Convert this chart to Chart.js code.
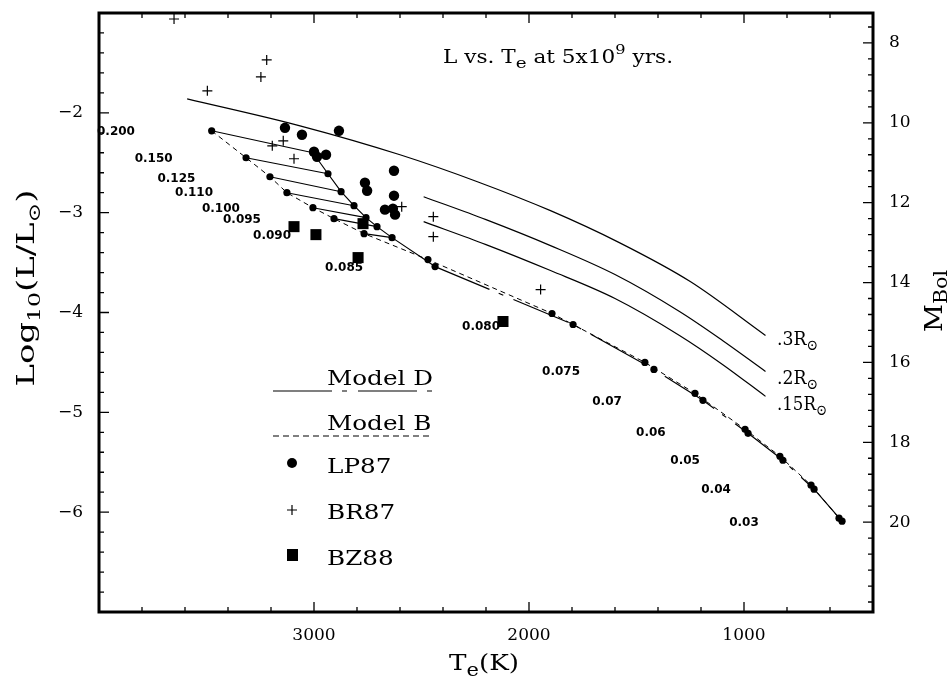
<!DOCTYPE html>
<html>
<head>
<meta charset="utf-8">
<title>L vs. Te at 5x10^9 yrs.</title>
<script src="https://cdn.jsdelivr.net/npm/chart.js@4.4.1/dist/chart.umd.min.js"></script>
<style>
  html, body { margin: 0; padding: 0; background: #fff; }
  #plot { display: block; }
</style>
</head>
<body>
<canvas id="plot" width="951" height="679"></canvas>
<script>
// model masses, written next to the isochrone points
const massLabels = ['0.200', '0.150', '0.125', '0.110', '0.100', '0.095', '0.090', '0.085',
                    '0.080', '0.075', '0.07', '0.06', '0.05', '0.04', '0.03'];
// where those mass labels sit (Te, log L)
const labelT = [3921, 3746, 3640, 3558, 3433, 3335, 3195, 2860, 2223, 1851, 1637, 1433, 1274, 1130, 1000];
const labelL = [-2.19, -2.46, -2.66, -2.80, -2.96, -3.07, -3.23, -3.55, -4.14, -4.59, -4.90, -5.21, -5.49, -5.78, -6.11];

// Model B isochrone (dashed)
const modelB_T = [3476, 3316, 3205, 3126, 3005, 2907, 2767, 2470, 1893, 1461, 1228, 995, 833, 688, 558];
const modelB_L = [-2.18, -2.45, -2.64, -2.80, -2.95, -3.06, -3.21, -3.47, -4.01, -4.50, -4.81, -5.17, -5.44, -5.73, -6.06];
// Model D isochrone (dash-dot)
const modelD_T = [3005, 2935, 2874, 2814, 2758, 2707, 2637, 2437, 1795, 1419, 1191, 981, 819, 674, 544];
const modelD_L = [-2.40, -2.61, -2.79, -2.93, -3.05, -3.14, -3.25, -3.54, -4.12, -4.57, -4.88, -5.21, -5.48, -5.77, -6.09];
// how many of the heavier masses get a B -> D connecting segment
const trackCount = 7;

// constant radius lines
const r30_T = [3590, 3065, 2600, 2240, 1900, 1580, 1250, 900];
const r30_L = [-1.86, -2.13, -2.42, -2.69, -2.98, -3.30, -3.69, -4.23];
const r20_T = [2490, 2200, 1900, 1600, 1300, 1100, 900];
const r20_L = [-2.84, -3.07, -3.33, -3.62, -3.99, -4.28, -4.59];
const r15_T = [2490, 2200, 1900, 1600, 1300, 1100, 900];
const r15_L = [-3.09, -3.32, -3.58, -3.86, -4.23, -4.52, -4.84];

// observed stars
const lp87_T = [3135, 3056, 2884, 3000, 2986, 2944, 2628, 2763, 2753, 2628, 2670, 2633, 2623];
const lp87_L = [-2.15, -2.22, -2.18, -2.39, -2.44, -2.42, -2.58, -2.70, -2.78, -2.83, -2.97, -2.96, -3.02];
const br87_T = [3651, 3220, 3247, 3496, 3143, 3194, 3093, 2592, 2445, 2445, 1946];
const br87_L = [-1.06, -1.47, -1.64, -1.78, -2.28, -2.33, -2.46, -2.94, -3.04, -3.24, -3.77];
const bz88_T = [3093, 2991, 2772, 2795, 2121];
const bz88_L = [-3.14, -3.22, -3.11, -3.45, -4.09];

// tick labels
const xTickLabels = [3000, 2000, 1000];
const yTickLabels = [-2, -3, -4, -5, -6];
const mbolTickLabels = [8, 10, 12, 14, 16, 18, 20];
const mbolZero = 4.75;   // M_Bol = 4.75 - 2.5 log L

const serif = "'DejaVu Serif', serif";
Chart.defaults.font.family = serif;
Chart.defaults.color = '#000';

const pts = (T, L) => T.map((t, i) => ({ x: t, y: L[i] }));
const hasLabel = (list, v) => list.some(l => Math.abs(l - v) < 1e-6);

function drawRich(ctx, parts, o) {
    ctx.save();
    let w = 0;
    parts.forEach(p => {
        ctx.font = `${o.size * (p.s || 1)}px ${serif}`;
        p.w = ctx.measureText(p.t).width;
        w += p.w;
    });
    const sx = o.width ? o.width / w : (o.sx || 1);
    ctx.translate(o.x, o.y);
    if (o.rotate) ctx.rotate(o.rotate);
    ctx.scale(sx, 1);
    ctx.fillStyle = '#000';
    ctx.textAlign = 'left';
    ctx.textBaseline = 'alphabetic';
    let cx = o.align === 'center' ? -w / 2 : 0;
    parts.forEach(p => {
        ctx.font = `${o.size * (p.s || 1)}px ${serif}`;
        ctx.fillText(p.t, cx, p.dy || 0);
        cx += p.w;
    });
    ctx.restore();
    return sx;
}

const sun = '\u2299';

const annotations = {
    id: 'annotations',
    afterDatasetsDraw(chart) {
        const { ctx, scales: { x, y } } = chart;

        // mass labels
        ctx.save();
        ctx.font = "bold 12px 'DejaVu Sans', sans-serif";
        ctx.fillStyle = '#000';
        ctx.textAlign = 'center';
        ctx.textBaseline = 'middle';
        massLabels.forEach((m, i) => {
            ctx.fillText(m, x.getPixelForValue(labelT[i]), y.getPixelForValue(labelL[i]));
        });
        ctx.restore();

        // title
        drawRich(ctx, [{ t: 'L vs. T' }, { t: 'e', s: 0.85, dy: 5 }, { t: ' at 5x10' },
                       { t: '9', s: 0.75, dy: -9 }, { t: ' yrs.' }],
                 { x: 443, y: 63, size: 18, width: 230 });

        // radius labels
        drawRich(ctx, [{ t: '.3R' }, { t: sun, s: 0.8, dy: 5 }], { x: 777, y: 345, size: 19, width: 41 });
        drawRich(ctx, [{ t: '.2R' }, { t: sun, s: 0.8, dy: 5 }], { x: 777, y: 384, size: 19, width: 41 });
        drawRich(ctx, [{ t: '.15R' }, { t: sun, s: 0.8, dy: 5 }], { x: 777, y: 410, size: 19, width: 50 });

        // axis titles
        drawRich(ctx, [{ t: 'Log' }, { t: '10', s: 0.7, dy: 6 }, { t: '(L/L' }, { t: sun, s: 0.7, dy: 6 }, { t: ')' }],
                 { x: 34, y: 288, size: 24, width: 197, align: 'center', rotate: -Math.PI / 2 });
        drawRich(ctx, [{ t: 'T' }, { t: 'e', s: 0.8, dy: 6 }, { t: '(K)' }],
                 { x: 484, y: 670, size: 23, width: 70, align: 'center' });
        drawRich(ctx, [{ t: 'M' }, { t: 'Bol', s: 0.75, dy: 5 }],
                 { x: 942, y: 301, size: 24, width: 62, align: 'center', rotate: -Math.PI / 2 });

        // legend
        const sx = drawRich(ctx, [{ t: 'Model D' }], { x: 327, y: 385, size: 21, width: 106 });
        drawRich(ctx, [{ t: 'Model B' }], { x: 327, y: 430, size: 21, sx });
        drawRich(ctx, [{ t: 'LP87' }], { x: 327, y: 473, size: 21, sx });
        drawRich(ctx, [{ t: 'BR87' }], { x: 327, y: 519, size: 21, sx });
        drawRich(ctx, [{ t: 'BZ88' }], { x: 327, y: 565, size: 21, sx });

        ctx.save();
        ctx.strokeStyle = '#000';
        ctx.fillStyle = '#000';
        ctx.lineWidth = 1.2;
        ctx.setLineDash([59, 10, 5, 11]);
        ctx.beginPath(); ctx.moveTo(273, 391); ctx.lineTo(433, 391); ctx.stroke();
        ctx.setLineDash([6, 4]);
        ctx.beginPath(); ctx.moveTo(273, 436); ctx.lineTo(433, 436); ctx.stroke();
        ctx.setLineDash([]);
        ctx.beginPath(); ctx.arc(292, 463, 5, 0, Math.PI * 2); ctx.fill();
        ctx.beginPath();
        ctx.moveTo(287, 510); ctx.lineTo(297, 510);
        ctx.moveTo(292, 505); ctx.lineTo(292, 515);
        ctx.stroke();
        ctx.fillRect(287, 549, 11, 12);
        ctx.restore();
    },
    afterDraw(chart) {
        const { ctx, chartArea: a, scales: { x, y, y2 } } = chart;
        ctx.save();
        ctx.strokeStyle = '#000';
        ctx.lineWidth = 1.3;
        ctx.beginPath();
        x.ticks.forEach(t => {
            const p = x.getPixelForValue(t.value);
            const len = hasLabel(xTickLabels, t.value) ? 10 : 5;
            ctx.moveTo(p, a.bottom); ctx.lineTo(p, a.bottom - len);
            ctx.moveTo(p, a.top); ctx.lineTo(p, a.top + len);
        });
        y.ticks.forEach(t => {
            const p = y.getPixelForValue(t.value);
            const len = hasLabel(yTickLabels, t.value) ? 10 : 5;
            ctx.moveTo(a.left, p); ctx.lineTo(a.left + len, p);
        });
        y2.ticks.forEach(t => {
            const p = y2.getPixelForValue(t.value);
            const len = hasLabel(mbolTickLabels, t.value) ? 10 : 5;
            ctx.moveTo(a.right, p); ctx.lineTo(a.right - len, p);
        });
        ctx.stroke();
        ctx.lineWidth = 3;
        ctx.strokeRect(a.left, a.top, a.right - a.left, a.bottom - a.top);
        ctx.restore();
    }
};

const curve = (T, L) => ({
    data: pts(T, L), showLine: true, pointRadius: 0, borderColor: '#000',
    borderWidth: 1.2, cubicInterpolationMode: 'monotone', clip: false
});

const tracks = [];
for (let i = 0; i < trackCount; i++) {
    tracks.push({
        data: [{ x: modelB_T[i], y: modelB_L[i] }, { x: modelD_T[i], y: modelD_L[i] }],
        showLine: true, pointRadius: 0, borderColor: '#000', borderWidth: 1.1
    });
}

const datasets = [
    {
        label: 'LP87', data: pts(lp87_T, lp87_L), pointRadius: 5.2,
        pointBackgroundColor: '#000', pointBorderColor: '#000', pointBorderWidth: 0, clip: false
    },
    {
        label: 'BR87', data: pts(br87_T, br87_L), pointStyle: 'cross', pointRadius: 5,
        pointBorderColor: '#000', pointBorderWidth: 1.2, clip: false
    },
    {
        label: 'BZ88', data: pts(bz88_T, bz88_L), pointStyle: 'rect', pointRadius: 7.8,
        pointBackgroundColor: '#000', pointBorderColor: '#000', pointBorderWidth: 0, clip: false
    },
    {
        label: 'Model D', data: pts(modelD_T, modelD_L), showLine: true,
        borderColor: '#000', borderWidth: 1.2, pointRadius: 3.6,
        pointBackgroundColor: '#000', pointBorderWidth: 0,
        segment: { borderDash: c => c.p0DataIndex >= trackCount ? [59, 10, 5, 11] : undefined }
    },
    {
        label: 'Model B', data: pts(modelB_T, modelB_L), showLine: true,
        borderColor: '#000', borderWidth: 1, borderDash: [5, 4], pointRadius: 3.6,
        pointBackgroundColor: '#000', pointBorderWidth: 0
    },
    ...tracks,
    curve(r30_T, r30_L),
    curve(r20_T, r20_L),
    curve(r15_T, r15_L)
];

const yMin = -7, yMax = -1;

// keep the plot frame where the figure has it: no automatic label overhang padding
const noOverhang = s => { s.paddingTop = 0; s.paddingBottom = 0; s.paddingLeft = 0; s.paddingRight = 0; };

new Chart(document.getElementById('plot'), {
    type: 'scatter',
    data: { datasets },
    options: {
        responsive: false,
        animation: false,
        layout: { padding: { top: 13, left: 0, right: 0, bottom: 0 } },
        plugins: { legend: { display: false }, tooltip: { enabled: false }, title: { display: false } },
        scales: {
            x: {
                type: 'linear', position: 'bottom', reverse: true, min: 400, max: 4000,
                grid: { display: false, drawTicks: false }, border: { display: false },
                ticks: {
                    stepSize: 200, autoSkip: false, maxRotation: 0, includeBounds: false, padding: 13,
                    font: { size: 17 },
                    callback: v => hasLabel(xTickLabels, v) ? String(Math.round(v)) : ''
                },
                afterFit: s => { s.height = 67; noOverhang(s); }
            },
            y: {
                type: 'linear', position: 'left', min: yMin, max: yMax,
                grid: { display: false, drawTicks: false }, border: { display: false },
                ticks: {
                    stepSize: 0.2, autoSkip: false, includeBounds: false, padding: 16,
                    font: { size: 17 },
                    callback: v => hasLabel(yTickLabels, v) ? '\u2212' + Math.abs(Math.round(v)) : ''
                },
                afterFit: s => { s.width = 99; noOverhang(s); }
            },
            y2: {
                type: 'linear', position: 'right', reverse: true,
                min: mbolZero - 2.5 * yMax, max: mbolZero - 2.5 * yMin,
                grid: { display: false, drawTicks: false }, border: { display: false },
                ticks: {
                    stepSize: 0.4, autoSkip: false, includeBounds: false, padding: 16,
                    font: { size: 17 },
                    callback: v => hasLabel(mbolTickLabels, v) ? String(Math.round(v)) : ''
                },
                afterFit: s => { s.width = 78; noOverhang(s); }
            }
        }
    },
    plugins: [annotations]
});
</script>
</body>
</html>
